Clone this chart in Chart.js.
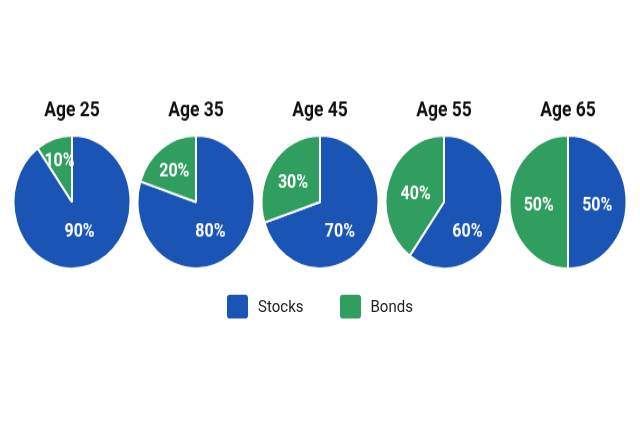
<!DOCTYPE html>
<html>
<head>
<meta charset="utf-8">
<script src="https://cdn.jsdelivr.net/npm/chart.js@4"></script>
<style>
  body { margin: 0; background: #fff; width: 640px; height: 427px; overflow: hidden; font-family: Roboto, sans-serif; }
  #wrap { position: absolute; left: 0; top: 90px; width: 640px; height: 210px; transform: scaleY(1.137); transform-origin: 0 0; }
  .cell { position: absolute; top: 0; width: 124px; height: 160px; }
  #legend { position: absolute; left: 0; top: 179px; width: 640px; height: 22px; display: flex; justify-content: center; align-items: center; gap: 36px; }
  .item { display: flex; align-items: center; gap: 10px; font-size: 15px; color: #222; }
  .box { width: 21px; height: 21px; border-radius: 3px; }
</style>
</head>
<body>
<div id="wrap"></div>
<script>
const ages = ["Age 25", "Age 35", "Age 45", "Age 55", "Age 65"];
const seriesNames = ["Stocks", "Bonds"];
const stocks = [90, 80, 70, 60, 50];
const bonds = [10, 20, 30, 40, 50];
const colors = ["#1a55b6", "#2f9e5f"];

const wrap = document.getElementById("wrap");

// white % labels inside each slice
const sliceLabels = {
  id: "sliceLabels",
  afterDatasetsDraw(chart) {
    const ctx = chart.ctx;
    const ds = chart.data.datasets[0];
    const total = ds.data.reduce((a, b) => a + b, 0);
    ctx.save();
    ctx.fillStyle = "#fff";
    ctx.font = "bold 16px Roboto";
    ctx.textAlign = "center";
    ctx.textBaseline = "middle";
    chart.getDatasetMeta(0).data.forEach((arc, i) => {
      const p = arc.getProps(["x", "y", "startAngle", "endAngle", "outerRadius"], true);
      const frac = ds.data[i] / total;
      const mid = (p.startAngle + p.endAngle) / 2;
      let lx, ly;
      if (frac > 0.5) {
        // big slice: label sits in the lower part of the pie
        lx = p.x + Math.cos(mid) * p.outerRadius * 0.42;
        ly = p.y + p.outerRadius * 0.46;
      } else {
        const r = p.outerRadius * Math.max(0.5, 0.75 - frac * 0.6);
        lx = p.x + Math.cos(mid) * r;
        ly = p.y + Math.sin(mid) * r + 3;
      }
      ctx.fillText(ds.data[i] + "%", lx, ly);
    });
    ctx.restore();
  }
};

ages.forEach((age, i) => {
  const cell = document.createElement("div");
  cell.className = "cell";
  cell.style.left = (10 + i * 124) + "px";
  const canvas = document.createElement("canvas");
  canvas.width = 124;
  canvas.height = 160;
  cell.appendChild(canvas);
  wrap.appendChild(cell);

  new Chart(canvas.getContext("2d"), {
    type: "pie",
    data: {
      labels: seriesNames,
      datasets: [{
        data: [stocks[i], bonds[i]],
        backgroundColor: colors,
        borderColor: "#fff",
        borderWidth: 2,
      }],
    },
    options: {
      responsive: false,
      animation: false,
      devicePixelRatio: 1,
      layout: { padding: { left: 2.5, right: 2.5, top: 0, bottom: 2 } },
      plugins: {
        legend: { display: false },
        tooltip: { enabled: false },
        title: {
          display: true,
          text: age,
          color: "#111",
          font: { family: "Roboto", size: 17.5, weight: "bold", lineHeight: 1.2 },
          padding: { top: 8, bottom: 10 },
        },
      },
    },
    plugins: [sliceLabels],
  });
});

// legend
const legend = document.createElement("div");
legend.id = "legend";
seriesNames.forEach((name, i) => {
  const item = document.createElement("div");
  item.className = "item";
  const box = document.createElement("div");
  box.className = "box";
  box.style.background = colors[i];
  const txt = document.createElement("span");
  txt.textContent = name;
  item.appendChild(box);
  item.appendChild(txt);
  legend.appendChild(item);
});
wrap.appendChild(legend);
</script>
</body>
</html>
